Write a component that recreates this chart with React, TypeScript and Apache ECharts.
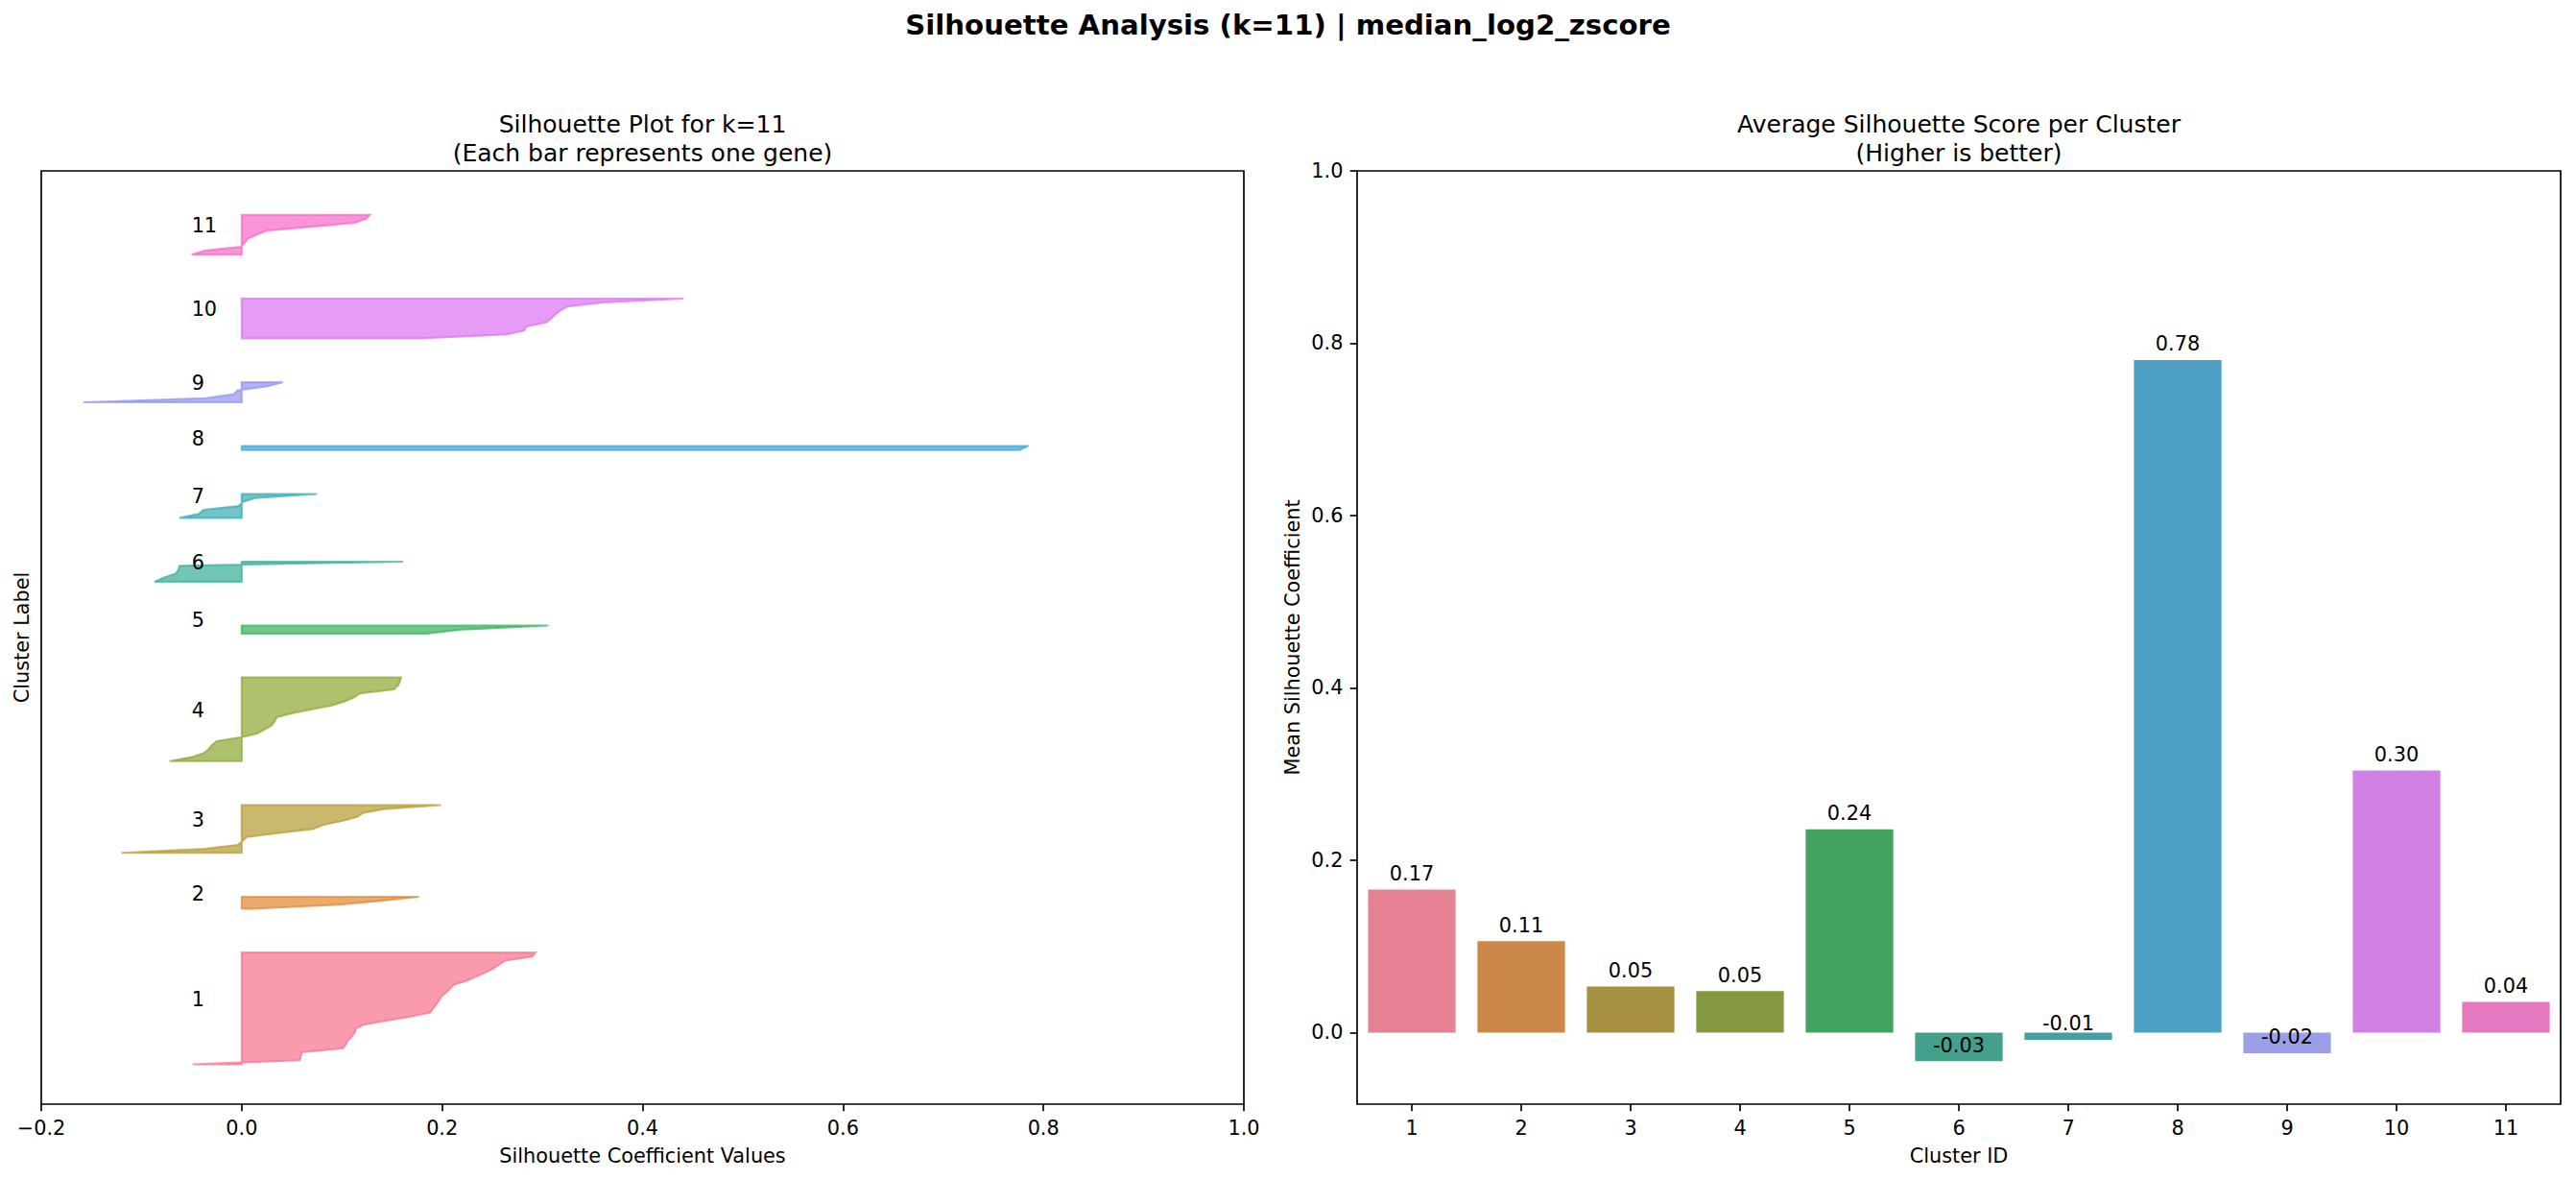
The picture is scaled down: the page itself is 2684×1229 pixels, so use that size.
import React, { useEffect, useRef } from 'react';
import * as echarts from 'echarts';

// ---------------- data ----------------
const clusterIds = ['1', '2', '3', '4', '5', '6', '7', '8', '9', '10', '11'];

// sorted silhouette values per gene (bottom -> top) for each cluster
const cluster1 = [-0.049, 0.058, 0.059, 0.060, 0.101, 0.104, 0.106, 0.110, 0.113, 0.114, 0.123, 0.146, 0.169, 0.188, 0.191, 0.194, 0.197, 0.199, 0.204, 0.208, 0.212, 0.225, 0.234, 0.243, 0.251, 0.257, 0.263, 0.290, 0.293];
const cluster2 = [0.010, 0.097, 0.139, 0.177];
const cluster3 = [-0.120, -0.037, -0.004, 0.001, 0.005, 0.038, 0.071, 0.081, 0.100, 0.115, 0.121, 0.142, 0.199];
const cluster4 = [-0.072, -0.050, -0.038, -0.033, -0.030, -0.025, 0.000, 0.016, 0.023, 0.030, 0.033, 0.035, 0.050, 0.070, 0.090, 0.103, 0.112, 0.118, 0.152, 0.156, 0.158, 0.159];
const cluster5 = [0.185, 0.219, 0.306];
const cluster6 = [-0.087, -0.078, -0.066, -0.063, -0.062, 0.161];
const cluster7 = [-0.062, -0.043, -0.038, -0.003, 0.001, 0.014, 0.075];
const cluster8 = [0.776, 0.785];
const cluster9 = [-0.158, -0.036, -0.008, -0.004, 0.026, 0.041];
const cluster10 = [0.178, 0.265, 0.282, 0.284, 0.304, 0.309, 0.313, 0.318, 0.325, 0.360, 0.441];
const cluster11 = [-0.050, -0.037, -0.001, 0.003, 0.006, 0.015, 0.025, 0.069, 0.113, 0.124, 0.128];

const clusterValues = [cluster1, cluster2, cluster3, cluster4, cluster5, cluster6, cluster7, cluster8, cluster9, cluster10, cluster11];

// mean silhouette score per cluster
const meanScores = [0.166, 0.106, 0.0535, 0.048, 0.236, -0.0331, -0.0085, 0.7806, -0.0241, 0.304, 0.0356];

const xTicksLeft = [-0.2, 0.0, 0.2, 0.4, 0.6, 0.8, 1.0];
const yTicksRight = [0.0, 0.2, 0.4, 0.6, 0.8, 1.0];

// ---------------- colours (seaborn husl palette) ----------------
const M = [
  [3.2406, -1.5372, -0.4986],
  [-0.9689, 1.8758, 0.0415],
  [0.0557, -0.2040, 1.0570],
];
const refU = 0.19784;
const refV = 0.46834;
const labE = 0.008856;
const labK = 903.3;

function maxChroma(L: number, H: number) {
  const hrad = (H * Math.PI) / 180;
  const sinH = Math.sin(hrad);
  const cosH = Math.cos(hrad);
  const sub1 = Math.pow(L + 16, 3) / 1560896.0;
  const sub2 = sub1 > 0.008856 ? sub1 : L / 903.3;
  let result = Infinity;
  for (const row of M) {
    const [m1, m2, m3] = row;
    const top = (0.99915 * m1 + 1.05122 * m2 + 1.1446 * m3) * sub2;
    const rbottom = 0.8633 * m3 - 0.17266 * m2;
    const lbottom = 0.12949 * m3 - 0.38848 * m1;
    const bottom = (rbottom * sinH + lbottom * cosH) * sub2;
    for (const t of [0, 1]) {
      const C = (L * (top - 1.05122 * t)) / (bottom + 0.17266 * sinH * t);
      if (C > 0 && C < result) result = C;
    }
  }
  return result;
}
function fInv(t: number) {
  return Math.pow(t, 3) > labE ? Math.pow(t, 3) : (116 * t - 16) / labK;
}
function fromLinear(c: number) {
  return c <= 0.0031308 ? 12.92 * c : 1.055 * Math.pow(c, 1 / 2.4) - 0.055;
}
function huslToRgb(H: number, S: number, L: number) {
  const C = (maxChroma(L, H) / 100) * S;
  const hr = (H * Math.PI) / 180;
  const U = Math.cos(hr) * C;
  const V = Math.sin(hr) * C;
  const varY = fInv((L + 16) / 116);
  const varU = U / (13 * L) + refU;
  const varV = V / (13 * L) + refV;
  const Y = varY;
  const X = 0 - (9 * Y * varU) / ((varU - 4) * varV - varU * varV);
  const Z = (9 * Y - 15 * varV * Y - varV * X) / (3 * varV);
  return M.map((r) => fromLinear(r[0] * X + r[1] * Y + r[2] * Z)).map((c) => Math.min(1, Math.max(0, c)));
}
function huslPalette(n: number) {
  const out: number[][] = [];
  for (let i = 0; i < n; i++) {
    let h = i / n + 0.01;
    h = h % 1;
    h *= 359;
    out.push(huslToRgb(h, 0.9 * 99, 0.65 * 99));
  }
  return out;
}
function rgbToHls(r: number, g: number, b: number) {
  const maxc = Math.max(r, g, b);
  const minc = Math.min(r, g, b);
  const sumc = maxc + minc;
  const rangec = maxc - minc;
  const l = sumc / 2;
  if (minc === maxc) return [0, l, 0];
  const s = l <= 0.5 ? rangec / sumc : rangec / (2 - maxc - minc);
  const rc = (maxc - r) / rangec;
  const gc = (maxc - g) / rangec;
  const bc = (maxc - b) / rangec;
  let h;
  if (r === maxc) h = bc - gc;
  else if (g === maxc) h = 2 + rc - bc;
  else h = 4 + gc - rc;
  h = (((h / 6) % 1) + 1) % 1;
  return [h, l, s];
}
function vH(m1: number, m2: number, hue: number) {
  hue = ((hue % 1) + 1) % 1;
  if (hue < 1 / 6) return m1 + (m2 - m1) * hue * 6;
  if (hue < 0.5) return m2;
  if (hue < 2 / 3) return m1 + (m2 - m1) * (2 / 3 - hue) * 6;
  return m1;
}
function hlsToRgb(h: number, l: number, s: number) {
  if (s === 0) return [l, l, l];
  const m2 = l <= 0.5 ? l * (1 + s) : l + s - l * s;
  const m1 = 2 * l - m2;
  return [vH(m1, m2, h + 1 / 3), vH(m1, m2, h), vH(m1, m2, h - 1 / 3)];
}
function desaturate(c: number[], prop: number) {
  const [h, l, s] = rgbToHls(c[0], c[1], c[2]);
  return hlsToRgb(h, l, s * prop);
}
function rgba(c: number[], a: number) {
  return `rgba(${Math.round(c[0] * 255)},${Math.round(c[1] * 255)},${Math.round(c[2] * 255)},${a})`;
}

const FONT = 'DejaVu Sans';
const FS = 20.8;

export default function App() {
  const ref = useRef<HTMLDivElement>(null);

  useEffect(() => {
    if (!ref.current) return;
    const chart = echarts.init(ref.current, undefined, { renderer: 'svg' });

    const palette = huslPalette(clusterIds.length);
    const barColors = palette.map((c) => rgba(desaturate(c, 0.75), 1));

    const yLowers: number[] = [];
    let yl = 10;
    clusterValues.forEach((v) => {
      yLowers.push(yl);
      yl += v.length + 10;
    });
    const yMaxLeft = yl; // n + (k+1)*10

    const yMinRight = Math.min(...meanScores) - 0.05;

    const fmtTick = (v: number) => {
      const r = Math.round(v * 10) / 10;
      return (r < 0 ? '\u2212' : '') + Math.abs(r).toFixed(1);
    };

    const tickStyle = { show: true, inside: false, length: 7.3, lineStyle: { color: '#000', width: 1.67 } };
    const labelStyle = { color: '#000', fontSize: FS, fontFamily: FONT };

    const option: any = {
      animation: false,
      backgroundColor: '#fff',
      textStyle: { fontFamily: FONT },
      title: [
        {
          text: 'Silhouette Analysis (k=11) | median_log2_zscore',
          left: 1342,
          top: 8,
          textAlign: 'center',
          padding: 0,
          textStyle: { fontSize: 29.2, fontWeight: 'bold', color: '#000', fontFamily: FONT, lineHeight: 36 },
        },
        {
          text: 'Silhouette Plot for k=11\n(Each bar represents one gene)',
          left: 669.5,
          top: 114,
          textAlign: 'center',
          padding: 0,
          textStyle: { fontSize: 25, fontWeight: 'normal', color: '#000', fontFamily: FONT, lineHeight: 30 },
        },
        {
          text: 'Average Silhouette Score per Cluster\n(Higher is better)',
          left: 2041,
          top: 114,
          textAlign: 'center',
          padding: 0,
          textStyle: { fontSize: 25, fontWeight: 'normal', color: '#000', fontFamily: FONT, lineHeight: 30 },
        },
      ],
      grid: [
        { left: 43, top: 178, width: 1253, height: 972, show: true, borderColor: '#000', borderWidth: 1.67, backgroundColor: 'transparent' },
        { left: 1414, top: 178, width: 1254, height: 972, show: true, borderColor: '#000', borderWidth: 1.67, backgroundColor: 'transparent' },
      ],
      xAxis: [
        {
          gridIndex: 0,
          type: 'value',
          position: 'bottom',
          min: xTicksLeft[0],
          max: xTicksLeft[xTicksLeft.length - 1],
          interval: 0.2,
          axisLine: { show: false, onZero: false },
          axisTick: tickStyle,
          splitLine: { show: false },
          axisLabel: { ...labelStyle, margin: 14, formatter: fmtTick },
          name: 'Silhouette Coefficient Values',
          nameLocation: 'middle',
          nameGap: 43,
          nameTextStyle: labelStyle,
        },
        {
          gridIndex: 1,
          type: 'category',
          position: 'bottom',
          data: clusterIds,
          boundaryGap: true,
          axisLine: { show: false, onZero: false },
          axisTick: { ...tickStyle, alignWithLabel: true, interval: 0 },
          splitLine: { show: false },
          axisLabel: { ...labelStyle, margin: 14, interval: 0 },
          name: 'Cluster ID',
          nameLocation: 'middle',
          nameGap: 43,
          nameTextStyle: labelStyle,
        },
      ],
      yAxis: [
        {
          gridIndex: 0,
          type: 'value',
          min: 0,
          max: yMaxLeft,
          axisLine: { show: false, onZero: false },
          axisTick: { show: false },
          axisLabel: { show: false },
          splitLine: { show: false },
          name: 'Cluster Label',
          nameLocation: 'middle',
          nameGap: 10,
          nameTextStyle: labelStyle,
        },
        {
          gridIndex: 1,
          type: 'value',
          min: yMinRight,
          max: 1.0,
          splitNumber: 5,
          axisLine: { show: false, onZero: false },
          axisTick: { ...tickStyle, customValues: yTicksRight },
          splitLine: { show: false },
          axisLabel: { ...labelStyle, margin: 14.6, customValues: yTicksRight, formatter: fmtTick },
          name: 'Mean Silhouette Coefficient',
          nameLocation: 'middle',
          nameGap: 57,
          nameTextStyle: labelStyle,
        },
      ],
      series: [
        {
          type: 'custom',
          xAxisIndex: 0,
          yAxisIndex: 0,
          silent: true,
          clip: false,
          data: clusterValues.map((_, i) => [0, yLowers[i]]),
          renderItem: (params: any, api: any) => {
            const i = params.dataIndex;
            const vals = clusterValues[i];
            const y0 = yLowers[i];
            const pts: number[][] = [];
            for (let j = 0; j < vals.length; j++) pts.push(api.coord([0, y0 + j]));
            for (let j = vals.length - 1; j >= 0; j--) pts.push(api.coord([vals[j], y0 + j]));
            const lp = api.coord([-0.05, y0 + 0.5 * vals.length]);
            const col = palette[i];
            return {
              type: 'group',
              children: [
                {
                  type: 'polygon',
                  shape: { points: pts },
                  style: { fill: rgba(col, 0.7), stroke: rgba(col, 0.7), lineWidth: 2.08 },
                },
                {
                  type: 'text',
                  style: {
                    text: clusterIds[i],
                    x: lp[0],
                    y: lp[1] - 7.5,
                    fill: '#000',
                    fontSize: FS,
                    fontFamily: FONT,
                    font: `${FS}px "${FONT}"`,
                    align: 'left',
                    verticalAlign: 'middle',
                    textAlign: 'left',
                    textVerticalAlign: 'middle',
                  },
                },
              ],
            };
          },
        },
        {
          type: 'bar',
          xAxisIndex: 1,
          yAxisIndex: 1,
          barWidth: '80%',
          silent: true,
          data: meanScores.map((v, i) => ({ value: v, itemStyle: { color: barColors[i] } })),
        },
        {
          type: 'custom',
          xAxisIndex: 1,
          yAxisIndex: 1,
          silent: true,
          clip: false,
          z: 5,
          data: meanScores.map((v, i) => [i, v + 0.01]),
          renderItem: (params: any, api: any) => {
            const i = params.dataIndex;
            const p = api.coord([api.value(0), api.value(1)]);
            return {
              type: 'text',
              style: {
                text: meanScores[i].toFixed(2),
                x: p[0],
                y: p[1] - 7.6,
                fill: '#000',
                fontSize: FS,
                fontFamily: FONT,
                font: `${FS}px "${FONT}"`,
                align: 'center',
                verticalAlign: 'middle',
                textAlign: 'center',
                textVerticalAlign: 'middle',
              },
            };
          },
        },
      ],
    };

    chart.setOption(option);
    return () => {
      chart.dispose();
    };
  }, []);

  return (
    <div
      ref={ref}
      style={{ position: 'fixed', left: 0, top: 0, width: 2684, height: 1229, background: '#fff' }}
    />
  );
}
